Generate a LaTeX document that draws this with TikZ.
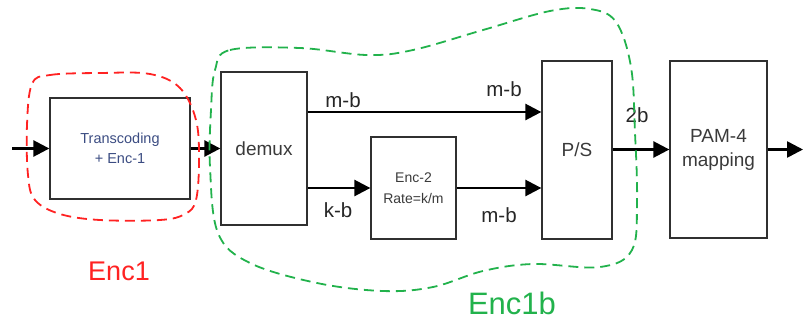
\documentclass[tikz,border=0pt]{standalone}
\usepackage{fontspec}
\setmainfont{Liberation Sans}
\usetikzlibrary{arrows.meta}
\definecolor{boxline}{HTML}{303030}
\definecolor{txtgray}{HTML}{3A3A3A}
\definecolor{txtblue}{HTML}{3B4C82}
\definecolor{encred}{HTML}{FF2222}
\definecolor{encgreen}{HTML}{22B24C}
\tikzset{
  blk/.style={draw=boxline, line width=1.3pt, inner sep=0pt, text=txtgray, align=center,
    font=\fontsize{19}{24}\selectfont},
  sig/.style={line width=2.6pt, -{Triangle[length=16pt,width=16pt]}},
  elabel/.style={text=black!85, font=\fontsize{20.5}{22}\selectfont, inner sep=0pt},
  blob/.style={dash pattern=on 10pt off 6pt, line width=1.8pt},
}
\begin{document}
\begin{tikzpicture}[x=1pt,y=-1pt]
\useasboundingbox (0,0) rectangle (808,325);
% blocks
\node[blk, minimum width=140pt, minimum height=101pt, text=txtblue,
      font=\fontsize{14.5}{20}\selectfont] (trans) at (120,148.5) {Transcoding\\+ Enc-1};
\node[blk, minimum width=86pt, minimum height=153pt] (demux) at (264,148.5) {demux};
\node[blk, minimum width=85pt, minimum height=102pt,
      font=\fontsize{14}{21}\selectfont] (enc2) at (413.5,188) {Enc-2\\Rate=k/m};
\node[blk, minimum width=70pt, minimum height=178pt] (ps) at (577,150) {P/S};
\node[blk, minimum width=97pt, minimum height=177pt] (pam) at (718.5,149.5) {PAM-4\\mapping};
% free ends
\coordinate (in) at (12,148.5);
\coordinate (out) at (803,149.5);
% connectors
\draw[sig] (in) -- (trans.west);
\draw[sig] (trans.east) -- (demux.west);
\draw[sig] (demux.east |- 0,112) -- (ps.west |- 0,112);
\draw[sig] (demux.east |- enc2.west) -- (enc2.west);
\draw[sig] (enc2.east) -- (ps.west |- enc2.east);
\draw[sig] (ps.east |- pam.west) -- (pam.west);
\draw[sig] (pam.east) -- (out);
% edge labels
\node[elabel] (l1) at (343,100) {m-b};
\node[elabel] (l2) at (504,89) {m-b};
\node[elabel] (l3) at (338,210) {k-b};
\node[elabel] (l4) at (499,215) {m-b};
\node[elabel] (l5) at (637,115) {2b};
% blobs
\draw[blob, encred] plot[smooth cycle, tension=0.6] coordinates {
  (32,84) (50,75) (100,73) (150,74) (180,88) (196,120) (199,160) (196,200)
  (185,214) (160,220) (100,220) (60,214) (35,200) (28,175) (27,125)};
\draw[blob, encgreen] plot[smooth cycle, tension=0.6] coordinates {
  (215,70) (230,50) (300,48) (367,55) (413,50) (483,30) (550,11) (590,9)
  (616,22) (631,67) (635,133) (637,200) (632,250) (600,267) (533,264)
  (483,271) (433,287) (383,291) (317,283) (250,263) (218,233) (210,167) (211,110)};
% group labels
\node[text=encred, font=\fontsize{27}{30}\selectfont, inner sep=0pt] (enc1) at (119,271) {Enc1};
\node[text=encgreen, font=\fontsize{31}{34}\selectfont, inner sep=0pt] (enc1b) at (512,303) {Enc1b};
\end{tikzpicture}
\end{document}
